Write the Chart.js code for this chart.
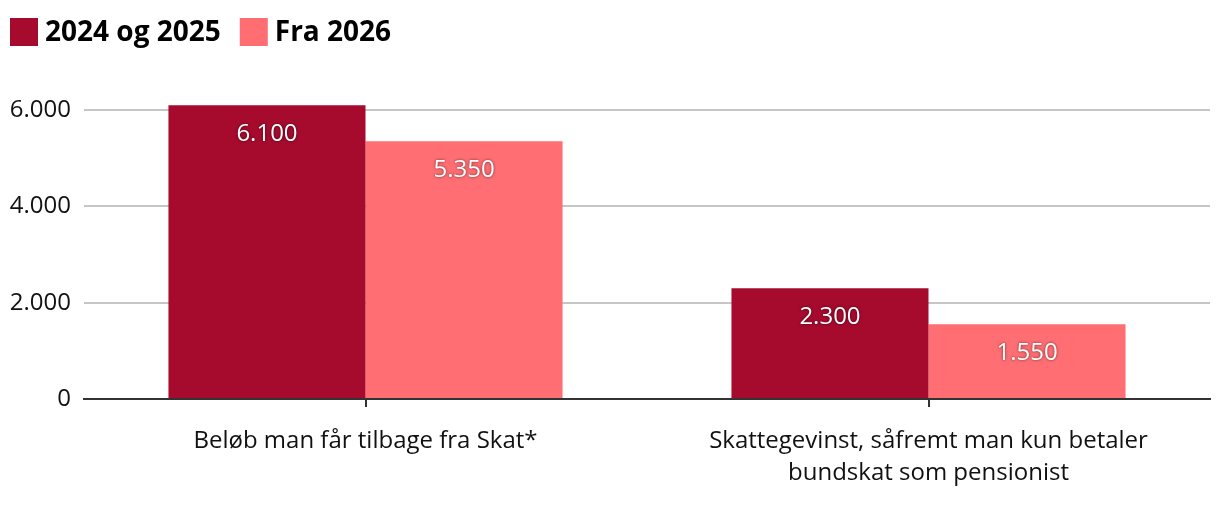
<!DOCTYPE html>
<html>
<head>
<meta charset="utf-8">
<script src="https://cdn.jsdelivr.net/npm/chart.js@4/dist/chart.umd.min.js"></script>
<style>
  html, body { margin: 0; padding: 0; background: #fff; }
  #wrap { width: 1220px; height: 506px; }
</style>
</head>
<body>
<div id="wrap"><canvas id="taxChart"></canvas></div>
<script>
const categories = [
  "Beløb man får tilbage fra Skat*",
  ["Skattegevinst, såfremt man kun betaler", "bundskat som pensionist"],
];
const seriesNames = ["2024 og 2025", "Fra 2026"];
const values2024og2025 = [6100, 2300];
const valuesFra2026 = [5350, 1550];
const yTicks = [0, 2000, 4000, 6000];

function fmt(v) {
  return String(v).replace(/\B(?=(\d{3})+(?!\d))/g, ".");
}

// white value labels just inside the top of each bar
const valueLabels = {
  id: "valueLabels",
  afterDatasetsDraw(chart) {
    const ctx = chart.ctx;
    ctx.save();
    ctx.font = "24px 'Open Sans'";
    ctx.textAlign = "center";
    ctx.textBaseline = "middle";
    ctx.fillStyle = "#ffffff";
    ctx.shadowColor = "rgba(0,0,0,0.6)";
    ctx.shadowBlur = 3;
    chart.data.datasets.forEach((ds, i) => {
      chart.getDatasetMeta(i).data.forEach((bar, j) => {
        ctx.fillText(fmt(ds.data[j]), bar.x, bar.y + 29);
      });
    });
    ctx.restore();
  },
};

// legend with tight box/text spacing
const topLegend = {
  id: "topLegend",
  afterDraw(chart) {
    const ctx = chart.ctx;
    ctx.save();
    ctx.font = "bold 28px 'Open Sans'";
    ctx.textBaseline = "middle";
    ctx.textAlign = "left";
    let x = 10;
    chart.data.datasets.forEach((ds) => {
      ctx.fillStyle = ds.backgroundColor;
      ctx.fillRect(x, 18, 28, 28);
      ctx.fillStyle = "#000";
      ctx.fillText(ds.label, x + 35, 33);
      x += 35 + ctx.measureText(ds.label).width + 19;
    });
    ctx.restore();
  },
};

document.addEventListener("DOMContentLoaded", function () {
  const ctx = document.getElementById("taxChart").getContext("2d");
  new Chart(ctx, {
    type: "bar",
    data: {
      labels: categories,
      datasets: [
        {
          label: seriesNames[0],
          data: values2024og2025,
          backgroundColor: "#a60b2e",
          categoryPercentage: 0.7,
          barPercentage: 1.0,
          clip: false,
        },
        {
          label: seriesNames[1],
          data: valuesFra2026,
          backgroundColor: "#ff6e73",
          categoryPercentage: 0.7,
          barPercentage: 1.0,
          clip: false,
        },
      ],
    },
    options: {
      responsive: true,
      maintainAspectRatio: false,
      animation: false,
      layout: {
        padding: { left: 0, right: 10, top: 110, bottom: 0 },
      },
      plugins: {
        legend: { display: false },
        tooltip: { enabled: false },
      },
      scales: {
        x: {
          afterFit(axis) {
            axis.height = 107;
          },
          grid: {
            display: true,
            drawOnChartArea: false,
            offset: false,
            tickLength: 8,
            color: "#333",
            lineWidth: 2,
          },
          border: { color: "#333", width: 2 },
          ticks: {
            color: "#111",
            padding: 19,
            font: { family: "'Open Sans'", size: 24, lineHeight: 1.3 },
          },
        },
        y: {
          min: 0,
          max: 6000,
          afterFit(axis) {
            axis.width = 84;
          },
          afterBuildTicks(axis) {
            axis.ticks = yTicks.map((v) => ({ value: v }));
          },
          grid: {
            color: "#c6c6c6",
            lineWidth: 2,
            drawTicks: false,
          },
          border: { display: false },
          ticks: {
            color: "#111",
            padding: 13,
            font: { family: "'Open Sans'", size: 24 },
            callback: (v) => fmt(v),
          },
        },
      },
    },
    plugins: [valueLabels, topLegend],
  });
});
</script>
</body>
</html>
